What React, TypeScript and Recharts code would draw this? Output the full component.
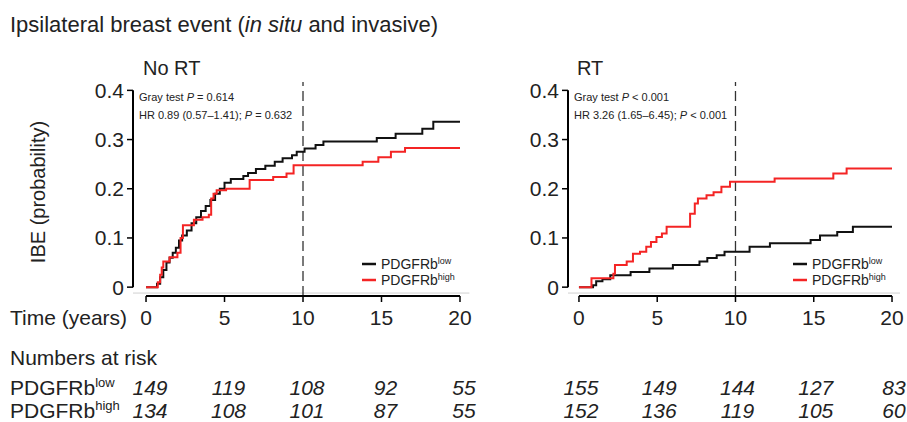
import { LineChart, Line, XAxis, YAxis, ReferenceLine } from 'recharts'

// cumulative incidence steps
const noRtLow = [
  { t: 0, v: 0 }, { t: 0.7, v: 0.007 }, { t: 0.9, v: 0.02 }, { t: 1.1, v: 0.035 }, { t: 1.3, v: 0.05 },
  { t: 1.5, v: 0.06 }, { t: 1.7, v: 0.07 }, { t: 1.9, v: 0.08 }, { t: 2.1, v: 0.095 }, { t: 2.3, v: 0.105 },
  { t: 2.6, v: 0.115 }, { t: 2.9, v: 0.13 }, { t: 3.2, v: 0.142 }, { t: 3.5, v: 0.155 }, { t: 3.8, v: 0.165 },
  { t: 4.1, v: 0.177 }, { t: 4.4, v: 0.19 }, { t: 4.7, v: 0.2 }, { t: 5.0, v: 0.212 }, { t: 5.4, v: 0.22 },
  { t: 6.2, v: 0.226 }, { t: 6.5, v: 0.232 }, { t: 7.0, v: 0.24 }, { t: 7.6, v: 0.247 }, { t: 8.2, v: 0.255 },
  { t: 8.7, v: 0.262 }, { t: 9.3, v: 0.268 }, { t: 9.6, v: 0.275 }, { t: 10.1, v: 0.282 }, { t: 10.8, v: 0.289 },
  { t: 11.3, v: 0.296 }, { t: 14.7, v: 0.303 }, { t: 15.9, v: 0.312 }, { t: 17.6, v: 0.322 }, { t: 18.3, v: 0.336 },
  { t: 20, v: 0.336 },
]

const noRtHigh = [
  { t: 0, v: 0 }, { t: 0.75, v: 0.01 }, { t: 0.9, v: 0.025 }, { t: 1.0, v: 0.04 }, { t: 1.1, v: 0.052 },
  { t: 1.5, v: 0.061 }, { t: 2.0, v: 0.07 }, { t: 2.2, v: 0.1 }, { t: 2.35, v: 0.126 }, { t: 3.05, v: 0.137 },
  { t: 3.6, v: 0.142 }, { t: 4.0, v: 0.147 }, { t: 4.15, v: 0.18 }, { t: 4.3, v: 0.19 }, { t: 4.5, v: 0.197 },
  { t: 5.1, v: 0.2 }, { t: 6.6, v: 0.218 }, { t: 8.1, v: 0.224 }, { t: 8.95, v: 0.231 }, { t: 9.4, v: 0.248 },
  { t: 13.8, v: 0.255 }, { t: 14.8, v: 0.264 }, { t: 15.6, v: 0.275 }, { t: 16.5, v: 0.283 }, { t: 20, v: 0.283 },
]

const rtLow = [
  { t: 0, v: 0 }, { t: 0.9, v: 0.004 }, { t: 1.1, v: 0.012 }, { t: 1.5, v: 0.016 }, { t: 2.0, v: 0.024 },
  { t: 3.3, v: 0.031 }, { t: 4.5, v: 0.038 }, { t: 6.0, v: 0.045 }, { t: 7.7, v: 0.052 }, { t: 8.2, v: 0.059 },
  { t: 8.8, v: 0.065 }, { t: 9.3, v: 0.072 }, { t: 10.9, v: 0.082 }, { t: 12.2, v: 0.089 }, { t: 14.8, v: 0.096 },
  { t: 15.4, v: 0.105 }, { t: 16.5, v: 0.112 }, { t: 17.5, v: 0.123 }, { t: 20, v: 0.123 },
]

const rtHigh = [
  { t: 0, v: 0 }, { t: 0.8, v: 0.018 }, { t: 2.2, v: 0.027 }, { t: 2.3, v: 0.045 }, { t: 3.05, v: 0.052 },
  { t: 3.45, v: 0.068 }, { t: 3.9, v: 0.072 }, { t: 4.3, v: 0.082 }, { t: 4.6, v: 0.092 }, { t: 4.95, v: 0.102 },
  { t: 5.3, v: 0.109 }, { t: 5.6, v: 0.123 }, { t: 7.1, v: 0.149 }, { t: 7.4, v: 0.17 }, { t: 7.6, v: 0.18 },
  { t: 8.15, v: 0.187 }, { t: 8.6, v: 0.193 }, { t: 9.1, v: 0.204 }, { t: 9.65, v: 0.214 }, { t: 12.5, v: 0.221 },
  { t: 16.25, v: 0.231 }, { t: 17.1, v: 0.241 }, { t: 20, v: 0.241 },
]

const yearTicks = [0, 5, 10, 15, 20]
const probTicks = [0, 0.1, 0.2, 0.3, 0.4]
const noRtRiskLow = [149, 119, 108, 92, 55]
const noRtRiskHigh = [134, 108, 101, 87, 55]
const rtRiskLow = [155, 149, 144, 127, 83]
const rtRiskHigh = [152, 136, 119, 105, 60]

const FONT = 'Arial, "Liberation Sans", Helvetica, sans-serif'
const RED = '#f42424'
const BLACK = '#111'
const Y_DOMAIN = [-0.018, 0.417]

const Panel = ({ left, width, marginLeft, marginRight, xDomain, low, high }: any) => {
  return (
    <div style={{ position: 'absolute', left, top: 0 }}>
      <LineChart width={width} height={340} margin={{ top: 82, right: marginRight, left: marginLeft, bottom: 14 }}>
        <XAxis
          type="number"
          dataKey="t"
          domain={xDomain}
          ticks={yearTicks}
          interval={0}
          allowDataOverflow
          axisLine={false}
          tickLine={{ stroke: '#000', strokeWidth: 1.5 }}
          tickSize={6}
          tickMargin={8}
          height={30}
          tick={{ fontSize: 21, fill: '#222', fontFamily: FONT }}
        />
        <YAxis
          type="number"
          domain={Y_DOMAIN}
          ticks={probTicks}
          interval={0}
          allowDataOverflow
          axisLine={false}
          tickLine={{ stroke: '#000', strokeWidth: 1.5 }}
          tickSize={6}
          tickMargin={3}
          width={60}
          tick={{ fontSize: 21, fill: '#222', fontFamily: FONT }}
          tickFormatter={(v: number) => (v === 0 ? '0' : v.toFixed(1))}
        />
        <ReferenceLine
          ifOverflow="visible"
          segment={[{ x: xDomain[0], y: -0.012 }, { x: xDomain[1], y: -0.012 }]}
          stroke="#d0d0d0"
          strokeWidth={1}
        />
        <ReferenceLine x={10} stroke="#333" strokeDasharray="10 5" strokeWidth={1.3} />
        <ReferenceLine
          ifOverflow="visible"
          segment={[{ x: 0, y: Y_DOMAIN[0] }, { x: 20, y: Y_DOMAIN[0] }]}
          stroke="#000"
          strokeWidth={2}
        />
        <ReferenceLine
          ifOverflow="visible"
          segment={[{ x: xDomain[0], y: 0 }, { x: xDomain[0], y: 0.4 }]}
          stroke="#000"
          strokeWidth={2}
        />
        <Line data={low} dataKey="v" type="stepAfter" stroke={BLACK} strokeWidth={2} dot={false} isAnimationActive={false} />
        <Line data={high} dataKey="v" type="stepAfter" stroke={RED} strokeWidth={2} dot={false} isAnimationActive={false} />
      </LineChart>
    </div>
  )
}

// same geometry as the panels above, for placing the risk table
const leftX = (t: number) => 133 + (t + 0.83) * (336.4 / 21.43)
const rightX = (t: number) => 568 + (t + 0.7) * (332 / 21.21)

const Legend = ({ x }: { x: number }) => (
  <g fontFamily={FONT} fill="#222">
    <line x1={x} x2={x + 14} y1={264} y2={264} stroke={BLACK} strokeWidth={2.5} />
    <line x1={x} x2={x + 14} y1={280} y2={280} stroke={RED} strokeWidth={2.5} />
    <text x={x + 19} y={269} fontSize={14}>PDGFRb<tspan fontSize={9} dy={-5}>low</tspan></text>
    <text x={x + 19} y={285} fontSize={14}>PDGFRb<tspan fontSize={9} dy={-5}>high</tspan></text>
  </g>
)

const Stats = ({ x, gray, hr, p }: { x: number; gray: string; hr: string; p: string }) => (
  <g fontFamily={FONT} fontSize={11} fill="#222">
    <text x={x} y={101}>Gray test <tspan fontStyle="italic">P</tspan> {gray}</text>
    <text x={x} y={119}>{hr}; <tspan fontStyle="italic">P</tspan> {p}</text>
  </g>
)

export default function App() {
  return (
    <div style={{ position: 'absolute', left: 0, top: 0, width: 907, height: 422, background: '#fff', fontFamily: FONT }}>
      <Panel left={0} width={480} marginLeft={73} marginRight={10.6} xDomain={[-0.83, 20.6]} low={noRtLow} high={noRtHigh} />
      <Panel left={480} width={427} marginLeft={28} marginRight={7} xDomain={[-0.7, 20.51]} low={rtLow} high={rtHigh} />
      <svg width={907} height={422} style={{ position: 'absolute', left: 0, top: 0, pointerEvents: 'none' }}>
        <g fontFamily={FONT} fill="#222">
          <text x={10} y={32} fontSize={22}>
            Ipsilateral breast event (<tspan fontStyle="italic">in situ</tspan> and invasive)
          </text>
          <text x={143} y={75} fontSize={20}>No RT</text>
          <text x={577} y={75} fontSize={20}>RT</text>
          <text x={38} y={192} fontSize={20} textAnchor="middle" transform="rotate(-90 38 192)" dy="0.35em">
            IBE (probability)
          </text>
          <text x={10} y={325} fontSize={21}>Time (years)</text>
          <text x={10} y={365} fontSize={21}>Numbers at risk</text>
          <text x={10} y={395} fontSize={21}>PDGFRb<tspan fontSize={13} dy={-8}>low</tspan></text>
          <text x={10} y={418} fontSize={21}>PDGFRb<tspan fontSize={13} dy={-8}>high</tspan></text>
          <g fontSize={21} fontStyle="italic" textAnchor="middle">
            {yearTicks.map((t, i) => (
              <g key={t}>
                <text x={leftX(t) + 4} y={395}>{noRtRiskLow[i]}</text>
                <text x={leftX(t) + 4} y={418}>{noRtRiskHigh[i]}</text>
                <text x={rightX(t) + 2} y={395}>{rtRiskLow[i]}</text>
                <text x={rightX(t) + 2} y={418}>{rtRiskHigh[i]}</text>
              </g>
            ))}
          </g>
        </g>
        <Stats x={139} gray="= 0.614" hr="HR 0.89 (0.57–1.41)" p="= 0.632" />
        <Stats x={574} gray="< 0.001" hr="HR 3.26 (1.65–6.45)" p="< 0.001" />
        <Legend x={362} />
        <Legend x={793} />
      </svg>
    </div>
  )
}
